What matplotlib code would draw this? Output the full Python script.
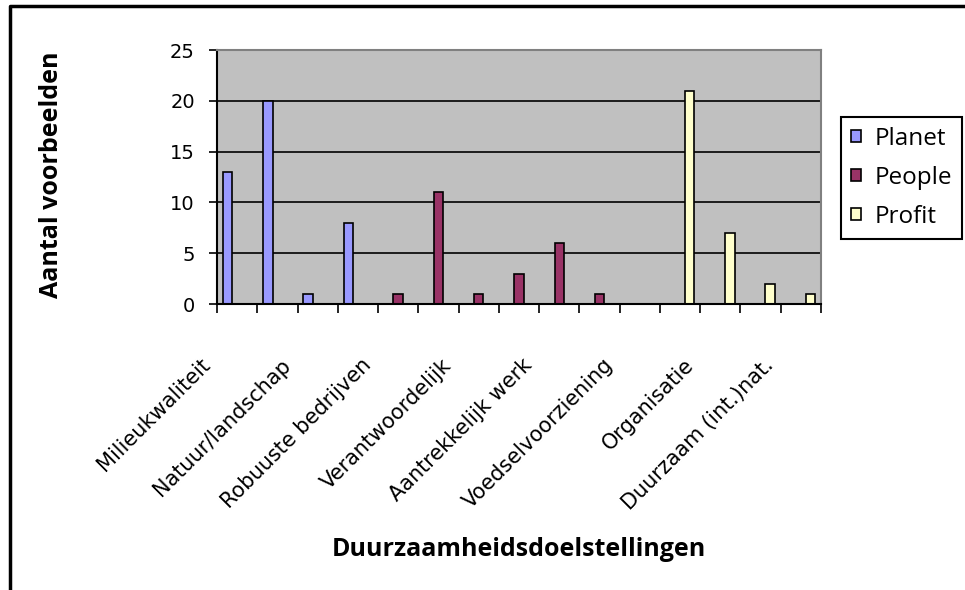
import matplotlib.pyplot as plt
import numpy as np
from matplotlib.patches import Patch
from matplotlib.lines import Line2D
from matplotlib.transforms import ScaledTranslation

# data (15 categories, one bar each)
planet = [13, 20, 1, 8, 0, 0, 0, 0, 0, 0, 0, 0, 0, 0, 0]
people = [0, 0, 0, 0, 1, 11, 1, 3, 6, 1, 0, 0, 0, 0, 0]
profit = [0, 0, 0, 0, 0, 0, 0, 0, 0, 0, 0, 21, 7, 2, 1]
# Excel only had room for every other label
shown_labels = ['Milieukwaliteit', 'Natuur/landschap', 'Robuuste bedrijven',
                'Verantwoordelijk', 'Aantrekkelijk werk', 'Voedselvoorziening',
                'Organisatie', 'Duurzaam (int.)nat.']
series_names = ['Planet', 'People', 'Profit']
colors = ['#9999FF', '#993366', '#FFFFCC']

W, H = 965, 590
fig = plt.figure(figsize=(W / 100, H / 100), dpi=100)
ax = fig.add_axes([217 / W, 1 - 304 / H, (821 - 217) / W, (304 - 50) / H])
ax.set_facecolor('#C0C0C0')

x = np.arange(len(planet))
w = 0.235
for i, (vals, c) in enumerate(zip([planet, people, profit], colors)):
    ax.bar(x + (i - 1) * w, vals, width=w, color=c, edgecolor='black', linewidth=1.2, zorder=2)

ax.set_xlim(-0.5, len(planet) - 0.5)
ax.set_ylim(0, 25)
ax.set_yticks(range(0, 26, 5))
ax.yaxis.grid(True, color='black', linewidth=1.2)
ax.set_axisbelow(True)
ax.tick_params(axis='y', direction='out', length=6, width=1.2, labelsize=14, pad=10)

ax.set_xticks(np.arange(-0.5, len(planet), 1))
ax.set_xticklabels([])
ax.tick_params(axis='x', direction='out', length=6.5, width=1.2)

for s in ['left', 'bottom']:
    ax.spines[s].set_color('black')
    ax.spines[s].set_linewidth(1.5)
for s in ['top', 'right']:
    ax.spines[s].set_color('#808080')
    ax.spines[s].set_linewidth(1.5)

for k, lab in enumerate(shown_labels):
    off = ScaledTranslation(-30 / 100, -58 / 100, fig.dpi_scale_trans)
    ax.text(2 * k, 0, lab, transform=ax.get_xaxis_transform() + off,
            rotation=45, rotation_mode='anchor', ha='right', va='center',
            fontsize=15, family='DejaVu Sans')

fig.text(52 / W, 1 - 175 / H, 'Aantal voorbeelden', rotation=90, ha='center', va='center',
         fontsize=18, fontweight='bold', family=['Open Sans', 'DejaVu Sans'])
fig.text(519 / W, 1 - 550 / H, 'Duurzaamheidsdoelstellingen', ha='center', va='center',
         fontsize=18, fontweight='bold', family=['Open Sans', 'DejaVu Sans'])

handles = [Patch(facecolor=c, edgecolor='black', linewidth=1.2) for c in colors]
leg = fig.legend(handles, series_names, loc='upper left',
                 bbox_to_anchor=(841 / W, 1 - 117 / H), bbox_transform=fig.transFigure,
                 borderaxespad=0, fancybox=False, framealpha=1, edgecolor='black',
                 handlelength=0.42, handleheight=0.35, handletextpad=0.55,
                 borderpad=0.4, labelspacing=0.62,
                 prop={'family': ['Open Sans', 'DejaVu Sans'], 'size': 17.5})
leg.get_frame().set_linewidth(1.5)

# outer chart border (cut off at the right and bottom in the original)
fig.add_artist(Line2D([10 / W, 10 / W, 1.0], [0.0, 1 - 6 / H, 1 - 6 / H],
                      transform=fig.transFigure, color='black', linewidth=2.5))

fig.savefig('out.png', dpi=100)
